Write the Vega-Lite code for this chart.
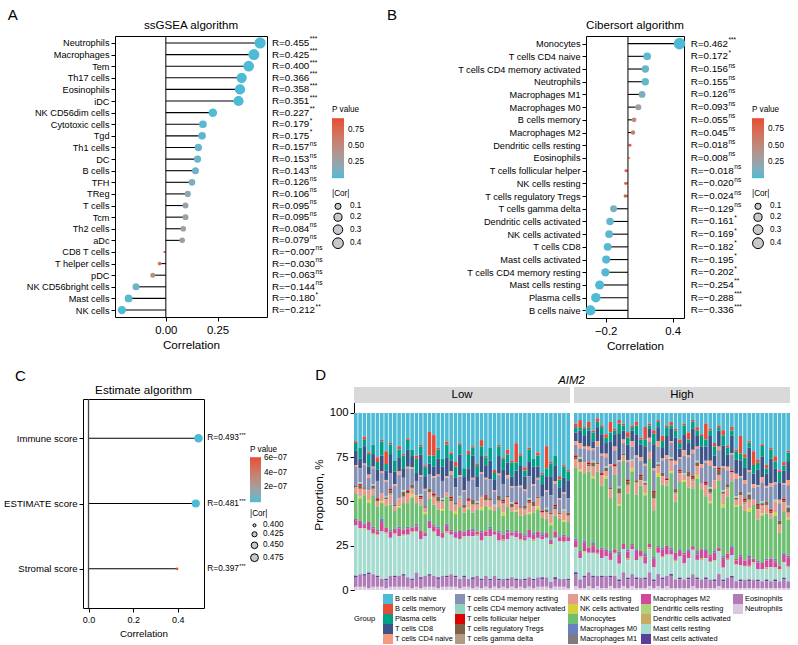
{
"$schema":"https://vega.github.io/schema/vega-lite/v6.json",
"padding":{"left":2,"top":8,"right":0,"bottom":0},
"config":{
 "font":"Liberation Sans",
 "view":{"stroke":"black","strokeWidth":1},
 "axis":{"grid":false,"domain":false,"tickColor":"black","tickSize":4,"labelColor":"black","titleColor":"black","titleFontWeight":"normal","labelPadding":2,"titlePadding":3},
 "title":{"fontWeight":"normal","color":"black"},
 "legend":{"titleFontWeight":"normal","titleColor":"black","labelColor":"black","labelOverlap":false}
},
"datasets":{
 "ssgsea":[
  {"cell":"Neutrophils","cor":0.455,"abscor":0.455,"p":5e-9,"lab":"R=0.455","sig":"***"},
  {"cell":"Macrophages","cor":0.425,"abscor":0.425,"p":6e-8,"lab":"R=0.425","sig":"***"},
  {"cell":"Tem","cor":0.400,"abscor":0.400,"p":4e-7,"lab":"R=0.400","sig":"***"},
  {"cell":"Th17 cells","cor":0.366,"abscor":0.366,"p":4e-6,"lab":"R=0.366","sig":"***"},
  {"cell":"Eosinophils","cor":0.358,"abscor":0.358,"p":7e-6,"lab":"R=0.358","sig":"***"},
  {"cell":"iDC","cor":0.351,"abscor":0.351,"p":1e-5,"lab":"R=0.351","sig":"***"},
  {"cell":"NK CD56dim cells","cor":0.227,"abscor":0.227,"p":0.0052,"lab":"R=0.227","sig":"**"},
  {"cell":"Cytotoxic cells","cor":0.179,"abscor":0.179,"p":0.0285,"lab":"R=0.179","sig":"*"},
  {"cell":"Tgd","cor":0.175,"abscor":0.175,"p":0.032,"lab":"R=0.175","sig":"*"},
  {"cell":"Th1 cells","cor":0.157,"abscor":0.157,"p":0.055,"lab":"R=0.157","sig":"ns"},
  {"cell":"DC","cor":0.153,"abscor":0.153,"p":0.0615,"lab":"R=0.153","sig":"ns"},
  {"cell":"B cells","cor":0.143,"abscor":0.143,"p":0.081,"lab":"R=0.143","sig":"ns"},
  {"cell":"TFH","cor":0.126,"abscor":0.126,"p":0.124,"lab":"R=0.126","sig":"ns"},
  {"cell":"TReg","cor":0.106,"abscor":0.106,"p":0.197,"lab":"R=0.106","sig":"ns"},
  {"cell":"T cells","cor":0.095,"abscor":0.095,"p":0.247,"lab":"R=0.095","sig":"ns"},
  {"cell":"Tcm","cor":0.095,"abscor":0.095,"p":0.247,"lab":"R=0.095","sig":"ns"},
  {"cell":"Th2 cells","cor":0.084,"abscor":0.084,"p":0.307,"lab":"R=0.084","sig":"ns"},
  {"cell":"aDc","cor":0.079,"abscor":0.079,"p":0.337,"lab":"R=0.079","sig":"ns"},
  {"cell":"CD8 T cells","cor":-0.007,"abscor":0.007,"p":0.932,"lab":"R=−0.007","sig":"ns"},
  {"cell":"T helper cells","cor":-0.030,"abscor":0.030,"p":0.716,"lab":"R=−0.030","sig":"ns"},
  {"cell":"pDC","cor":-0.063,"abscor":0.063,"p":0.444,"lab":"R=−0.063","sig":"ns"},
  {"cell":"NK CD56bright cells","cor":-0.144,"abscor":0.144,"p":0.079,"lab":"R=−0.144","sig":"ns"},
  {"cell":"Mast cells","cor":-0.180,"abscor":0.180,"p":0.0277,"lab":"R=−0.180","sig":"*"},
  {"cell":"NK cells","cor":-0.212,"abscor":0.212,"p":0.0093,"lab":"R=−0.212","sig":"**"}
 ],
 "cibersort":[
  {"cell":"Monocytes","cor":0.462,"abscor":0.462,"p":2.6e-9,"lab":"R=0.462","sig":"***"},
  {"cell":"T cells CD4 naive","cor":0.172,"abscor":0.172,"p":0.0355,"lab":"R=0.172","sig":"*"},
  {"cell":"T cells CD4 memory activated","cor":0.156,"abscor":0.156,"p":0.0567,"lab":"R=0.156","sig":"ns"},
  {"cell":"Neutrophils","cor":0.155,"abscor":0.155,"p":0.058,"lab":"R=0.155","sig":"ns"},
  {"cell":"Macrophages M1","cor":0.126,"abscor":0.126,"p":0.125,"lab":"R=0.126","sig":"ns"},
  {"cell":"Macrophages M0","cor":0.093,"abscor":0.093,"p":0.258,"lab":"R=0.093","sig":"ns"},
  {"cell":"B cells memory","cor":0.055,"abscor":0.055,"p":0.504,"lab":"R=0.055","sig":"ns"},
  {"cell":"Macrophages M2","cor":0.045,"abscor":0.045,"p":0.585,"lab":"R=0.045","sig":"ns"},
  {"cell":"Dendritic cells resting","cor":0.018,"abscor":0.018,"p":0.827,"lab":"R=0.018","sig":"ns"},
  {"cell":"Eosinophils","cor":0.008,"abscor":0.008,"p":0.923,"lab":"R=0.008","sig":"ns"},
  {"cell":"T cells follicular helper","cor":-0.018,"abscor":0.018,"p":0.827,"lab":"R=−0.018","sig":"ns"},
  {"cell":"NK cells resting","cor":-0.020,"abscor":0.020,"p":0.808,"lab":"R=−0.020","sig":"ns"},
  {"cell":"T cells regulatory Tregs","cor":-0.024,"abscor":0.024,"p":0.771,"lab":"R=−0.024","sig":"ns"},
  {"cell":"T cells gamma delta","cor":-0.129,"abscor":0.129,"p":0.116,"lab":"R=−0.129","sig":"ns"},
  {"cell":"Dendritic cells activated","cor":-0.161,"abscor":0.161,"p":0.049,"lab":"R=−0.161","sig":"*"},
  {"cell":"NK cells activated","cor":-0.169,"abscor":0.169,"p":0.039,"lab":"R=−0.169","sig":"*"},
  {"cell":"T cells CD8","cor":-0.182,"abscor":0.182,"p":0.0258,"lab":"R=−0.182","sig":"*"},
  {"cell":"Mast cells activated","cor":-0.195,"abscor":0.195,"p":0.0168,"lab":"R=−0.195","sig":"*"},
  {"cell":"T cells CD4 memory resting","cor":-0.202,"abscor":0.202,"p":0.0132,"lab":"R=−0.202","sig":"*"},
  {"cell":"Mast cells resting","cor":-0.254,"abscor":0.254,"p":0.0017,"lab":"R=−0.254","sig":"**"},
  {"cell":"Plasma cells","cor":-0.288,"abscor":0.288,"p":0.00035,"lab":"R=−0.288","sig":"***"},
  {"cell":"B cells naive","cor":-0.336,"abscor":0.336,"p":2.6e-5,"lab":"R=−0.336","sig":"***"}
 ],
 "estimate":[
  {"cell":"Immune score","cor":0.493,"abscor":0.493,"p":1.3e-10,"lab":"R=0.493","sig":"***"},
  {"cell":"ESTIMATE score","cor":0.481,"abscor":0.481,"p":4e-10,"lab":"R=0.481","sig":"***"},
  {"cell":"Stromal score","cor":0.397,"abscor":0.397,"p":6.1e-7,"lab":"R=0.397","sig":"***"}
 ],
 "types":[
  {"ct":"a","name":"B cells naive","ord":1},{"ct":"b","name":"B cells memory","ord":2},{"ct":"c","name":"Plasma cells","ord":3},{"ct":"d","name":"T cells CD8","ord":4},{"ct":"e","name":"T cells CD4 naive","ord":5},{"ct":"f","name":"T cells CD4 memory resting","ord":6},{"ct":"g","name":"T cells CD4 memory activated","ord":7},{"ct":"h","name":"T cells follicular helper","ord":8},{"ct":"i","name":"T cells regulatory Tregs","ord":9},{"ct":"j","name":"T cells gamma delta","ord":10},{"ct":"k","name":"NK cells resting","ord":11},{"ct":"l","name":"NK cells activated","ord":12},{"ct":"m","name":"Monocytes","ord":13},{"ct":"n","name":"Macrophages M0","ord":14},{"ct":"o","name":"Macrophages M1","ord":15},{"ct":"p","name":"Macrophages M2","ord":16},{"ct":"q","name":"Dendritic cells resting","ord":17},{"ct":"r","name":"Dendritic cells activated","ord":18},{"ct":"s","name":"Mast cells resting","ord":19},{"ct":"t","name":"Mast cells activated","ord":20},{"ct":"u","name":"Eosinophils","ord":21},{"ct":"v","name":"Neutrophils","ord":22}
 ],
 "props":[
  {"group":"Low","sample":1,"a":18,"b":1,"c":5,"d":9,"e":1,"f":12,"g":0,"h":0,"i":1,"j":0,"k":4,"l":0,"m":16,"n":1,"o":0,"p":3,"q":0,"r":0,"s":32,"t":1,"u":6,"v":2},
  {"group":"Low","sample":2,"a":22,"b":0,"c":7,"d":6,"e":0,"f":9,"g":1,"h":1,"i":2,"j":0,"k":5,"l":1,"m":14,"n":0,"o":1,"p":4,"q":0,"r":0,"s":29,"t":0,"u":8,"v":2},
  {"group":"Low","sample":3,"a":15,"b":2,"c":4,"d":11,"e":1,"f":14,"g":0,"h":0,"i":1,"j":1,"k":3,"l":0,"m":18,"n":1,"o":0,"p":2,"q":1,"r":0,"s":28,"t":1,"u":7,"v":2},
  {"group":"Low","sample":4,"a":25,"b":1,"c":8,"d":5,"e":2,"f":8,"g":0,"h":0,"i":0,"j":0,"k":6,"l":2,"m":12,"n":0,"o":0,"p":5,"q":0,"r":0,"s":27,"t":1,"u":9,"v":1},
  {"group":"Low","sample":5,"a":20,"b":0,"c":6,"d":8,"e":1,"f":10,"g":1,"h":0,"i":2,"j":0,"k":4,"l":0,"m":20,"n":1,"o":0,"p":3,"q":0,"r":1,"s":25,"t":0,"u":8,"v":2},
  {"group":"Low","sample":6,"a":28,"b":3,"c":5,"d":7,"e":0,"f":11,"g":0,"h":1,"i":1,"j":0,"k":3,"l":0,"m":15,"n":0,"o":1,"p":2,"q":0,"r":0,"s":26,"t":1,"u":6,"v":2},
  {"group":"Low","sample":7,"a":17,"b":1,"c":9,"d":10,"e":1,"f":13,"g":0,"h":0,"i":0,"j":0,"k":5,"l":1,"m":10,"n":2,"o":0,"p":6,"q":0,"r":0,"s":30,"t":0,"u":5,"v":2},
  {"group":"Low","sample":8,"a":24,"b":8,"c":4,"d":6,"e":1,"f":9,"g":1,"h":0,"i":1,"j":0,"k":4,"l":0,"m":14,"n":0,"o":0,"p":3,"q":1,"r":0,"s":28,"t":1,"u":5,"v":1},
  {"group":"Low","sample":9,"a":19,"b":1,"c":6,"d":12,"e":0,"f":10,"g":0,"h":1,"i":2,"j":1,"k":6,"l":0,"m":16,"n":1,"o":0,"p":4,"q":0,"r":0,"s":24,"t":0,"u":7,"v":2},
  {"group":"Low","sample":10,"a":30,"b":0,"c":7,"d":8,"e":1,"f":12,"g":0,"h":0,"i":1,"j":0,"k":3,"l":0,"m":11,"n":0,"o":1,"p":2,"q":0,"r":1,"s":26,"t":1,"u":6,"v":2},
  {"group":"Low","sample":11,"a":21,"b":2,"c":5,"d":9,"e":2,"f":15,"g":0,"h":0,"i":0,"j":0,"k":5,"l":1,"m":12,"n":1,"o":0,"p":5,"q":0,"r":0,"s":25,"t":0,"u":7,"v":2},
  {"group":"Low","sample":12,"a":26,"b":1,"c":8,"d":6,"e":0,"f":8,"g":1,"h":0,"i":3,"j":0,"k":4,"l":0,"m":17,"n":0,"o":0,"p":3,"q":1,"r":0,"s":24,"t":1,"u":7,"v":2},
  {"group":"Low","sample":13,"a":16,"b":1,"c":6,"d":11,"e":1,"f":14,"g":0,"h":1,"i":1,"j":0,"k":6,"l":0,"m":15,"n":1,"o":0,"p":4,"q":0,"r":0,"s":27,"t":0,"u":6,"v":2},
  {"group":"Low","sample":14,"a":23,"b":0,"c":4,"d":7,"e":1,"f":10,"g":0,"h":0,"i":2,"j":1,"k":3,"l":2,"m":19,"n":0,"o":0,"p":2,"q":0,"r":1,"s":29,"t":1,"u":5,"v":1},
  {"group":"Low","sample":15,"a":27,"b":2,"c":9,"d":5,"e":0,"f":9,"g":0,"h":0,"i":0,"j":0,"k":5,"l":0,"m":13,"n":1,"o":1,"p":3,"q":0,"r":0,"s":26,"t":0,"u":9,"v":2},
  {"group":"Low","sample":16,"a":20,"b":1,"c":5,"d":13,"e":1,"f":11,"g":1,"h":1,"i":1,"j":0,"k":4,"l":0,"m":16,"n":0,"o":0,"p":5,"q":0,"r":0,"s":24,"t":1,"u":6,"v":1},
  {"group":"Low","sample":17,"a":33,"b":1,"c":6,"d":8,"e":1,"f":10,"g":0,"h":0,"i":1,"j":0,"k":3,"l":1,"m":12,"n":0,"o":0,"p":2,"q":0,"r":0,"s":25,"t":0,"u":7,"v":2},
  {"group":"Low","sample":18,"a":12,"b":15,"c":5,"d":7,"e":0,"f":9,"g":0,"h":0,"i":2,"j":0,"k":4,"l":0,"m":14,"n":1,"o":0,"p":4,"q":0,"r":0,"s":29,"t":1,"u":7,"v":2},
  {"group":"Low","sample":19,"a":14,"b":13,"c":7,"d":6,"e":1,"f":10,"g":0,"h":1,"i":1,"j":0,"k":5,"l":0,"m":13,"n":0,"o":1,"p":3,"q":1,"r":0,"s":27,"t":0,"u":7,"v":2},
  {"group":"Low","sample":20,"a":22,"b":1,"c":6,"d":10,"e":1,"f":13,"g":0,"h":0,"i":3,"j":1,"k":4,"l":0,"m":11,"n":1,"o":0,"p":5,"q":0,"r":0,"s":26,"t":1,"u":6,"v":1},
  {"group":"Low","sample":21,"a":29,"b":0,"c":5,"d":9,"e":0,"f":11,"g":1,"h":0,"i":1,"j":0,"k":5,"l":1,"m":14,"n":0,"o":0,"p":3,"q":0,"r":0,"s":24,"t":0,"u":7,"v":2},
  {"group":"Low","sample":22,"a":18,"b":2,"c":8,"d":12,"e":1,"f":9,"g":0,"h":0,"i":0,"j":0,"k":3,"l":0,"m":17,"n":1,"o":0,"p":4,"q":0,"r":1,"s":27,"t":1,"u":6,"v":2},
  {"group":"Low","sample":23,"a":25,"b":1,"c":4,"d":7,"e":2,"f":14,"g":0,"h":1,"i":2,"j":0,"k":6,"l":0,"m":12,"n":0,"o":1,"p":2,"q":0,"r":0,"s":25,"t":0,"u":8,"v":2},
  {"group":"Low","sample":24,"a":31,"b":3,"c":7,"d":6,"e":0,"f":10,"g":0,"h":0,"i":1,"j":0,"k":4,"l":2,"m":11,"n":1,"o":0,"p":3,"q":0,"r":0,"s":24,"t":1,"u":6,"v":2},
  {"group":"Low","sample":25,"a":19,"b":1,"c":6,"d":13,"e":1,"f":12,"g":1,"h":0,"i":0,"j":1,"k":5,"l":0,"m":15,"n":0,"o":0,"p":5,"q":0,"r":0,"s":25,"t":0,"u":6,"v":1},
  {"group":"Low","sample":26,"a":35,"b":0,"c":5,"d":9,"e":1,"f":8,"g":0,"h":0,"i":2,"j":0,"k":3,"l":0,"m":12,"n":1,"o":0,"p":2,"q":1,"r":0,"s":24,"t":1,"u":6,"v":2},
  {"group":"Low","sample":27,"a":24,"b":2,"c":9,"d":8,"e":0,"f":11,"g":0,"h":1,"i":1,"j":0,"k":4,"l":1,"m":13,"n":0,"o":0,"p":4,"q":0,"r":0,"s":27,"t":0,"u":5,"v":2},
  {"group":"Low","sample":28,"a":21,"b":1,"c":5,"d":14,"e":1,"f":13,"g":0,"h":0,"i":3,"j":0,"k":5,"l":0,"m":10,"n":1,"o":1,"p":3,"q":0,"r":0,"s":26,"t":1,"u":6,"v":1},
  {"group":"Low","sample":29,"a":32,"b":1,"c":7,"d":7,"e":0,"f":9,"g":1,"h":0,"i":1,"j":0,"k":3,"l":0,"m":14,"n":0,"o":0,"p":2,"q":0,"r":1,"s":25,"t":0,"u":7,"v":2},
  {"group":"Low","sample":30,"a":17,"b":4,"c":6,"d":10,"e":1,"f":14,"g":0,"h":0,"i":0,"j":1,"k":6,"l":2,"m":13,"n":1,"o":0,"p":5,"q":0,"r":0,"s":24,"t":1,"u":5,"v":1},
  {"group":"Low","sample":31,"a":27,"b":1,"c":5,"d":8,"e":1,"f":10,"g":0,"h":1,"i":2,"j":0,"k":4,"l":0,"m":16,"n":0,"o":0,"p":3,"q":0,"r":0,"s":25,"t":0,"u":7,"v":2},
  {"group":"Low","sample":32,"a":22,"b":0,"c":8,"d":12,"e":0,"f":12,"g":0,"h":0,"i":1,"j":0,"k":5,"l":1,"m":11,"n":1,"o":1,"p":4,"q":1,"r":0,"s":26,"t":1,"u":5,"v":1},
  {"group":"Low","sample":33,"a":36,"b":2,"c":4,"d":7,"e":1,"f":8,"g":1,"h":0,"i":0,"j":0,"k":3,"l":0,"m":13,"n":0,"o":0,"p":2,"q":0,"r":0,"s":26,"t":0,"u":7,"v":2},
  {"group":"Low","sample":34,"a":20,"b":1,"c":6,"d":11,"e":1,"f":13,"g":0,"h":0,"i":3,"j":0,"k":4,"l":0,"m":15,"n":1,"o":0,"p":5,"q":0,"r":0,"s":24,"t":1,"u":5,"v":1},
  {"group":"Low","sample":35,"a":28,"b":1,"c":7,"d":9,"e":0,"f":10,"g":0,"h":1,"i":1,"j":1,"k":5,"l":2,"m":12,"n":0,"o":0,"p":3,"q":0,"r":1,"s":24,"t":0,"u":5,"v":2},
  {"group":"Low","sample":36,"a":23,"b":3,"c":5,"d":8,"e":2,"f":11,"g":0,"h":0,"i":1,"j":0,"k":6,"l":0,"m":14,"n":1,"o":1,"p":4,"q":0,"r":0,"s":25,"t":1,"u":5,"v":1},
  {"group":"Low","sample":37,"a":30,"b":1,"c":9,"d":6,"e":1,"f":9,"g":1,"h":0,"i":2,"j":0,"k":3,"l":0,"m":13,"n":0,"o":0,"p":2,"q":0,"r":0,"s":26,"t":0,"u":6,"v":2},
  {"group":"Low","sample":38,"a":19,"b":12,"c":5,"d":10,"e":0,"f":10,"g":0,"h":1,"i":0,"j":0,"k":4,"l":1,"m":12,"n":1,"o":0,"p":3,"q":0,"r":0,"s":26,"t":1,"u":5,"v":1},
  {"group":"Low","sample":39,"a":26,"b":1,"c":6,"d":13,"e":1,"f":12,"g":0,"h":0,"i":1,"j":0,"k":5,"l":0,"m":11,"n":0,"o":0,"p":4,"q":1,"r":0,"s":24,"t":0,"u":5,"v":2},
  {"group":"Low","sample":40,"a":34,"b":2,"c":4,"d":8,"e":1,"f":9,"g":0,"h":0,"i":2,"j":1,"k":3,"l":0,"m":12,"n":1,"o":1,"p":2,"q":0,"r":0,"s":24,"t":1,"u":5,"v":1},
  {"group":"Low","sample":41,"a":22,"b":1,"c":8,"d":9,"e":0,"f":14,"g":1,"h":1,"i":1,"j":0,"k":6,"l":1,"m":10,"n":0,"o":0,"p":5,"q":0,"r":0,"s":25,"t":0,"u":6,"v":2},
  {"group":"Low","sample":42,"a":29,"b":0,"c":5,"d":11,"e":1,"f":10,"g":0,"h":0,"i":3,"j":0,"k":4,"l":0,"m":13,"n":1,"o":0,"p":3,"q":0,"r":1,"s":24,"t":1,"u":5,"v":1},
  {"group":"Low","sample":43,"a":25,"b":2,"c":7,"d":7,"e":1,"f":11,"g":0,"h":0,"i":1,"j":0,"k":5,"l":2,"m":14,"n":0,"o":0,"p":4,"q":0,"r":0,"s":25,"t":0,"u":6,"v":2},
  {"group":"Low","sample":44,"a":38,"b":1,"c":6,"d":8,"e":0,"f":9,"g":0,"h":1,"i":0,"j":0,"k":3,"l":0,"m":10,"n":1,"o":1,"p":2,"q":0,"r":0,"s":24,"t":1,"u":5,"v":2},
  {"group":"Low","sample":45,"a":21,"b":14,"c":5,"d":9,"e":1,"f":10,"g":1,"h":0,"i":2,"j":0,"k":4,"l":0,"m":9,"n":0,"o":0,"p":3,"q":0,"r":0,"s":25,"t":0,"u":6,"v":2},
  {"group":"Low","sample":46,"a":31,"b":1,"c":8,"d":12,"e":0,"f":11,"g":0,"h":0,"i":1,"j":1,"k":5,"l":1,"m":9,"n":1,"o":0,"p":2,"q":1,"r":0,"s":23,"t":0,"u":4,"v":1},
  {"group":"Low","sample":47,"a":27,"b":0,"c":6,"d":10,"e":2,"f":13,"g":0,"h":1,"i":2,"j":0,"k":4,"l":0,"m":10,"n":0,"o":0,"p":4,"q":0,"r":0,"s":25,"t":1,"u":5,"v":2},
  {"group":"Low","sample":48,"a":40,"b":2,"c":5,"d":7,"e":1,"f":8,"g":0,"h":0,"i":1,"j":0,"k":3,"l":0,"m":11,"n":1,"o":0,"p":2,"q":0,"r":0,"s":24,"t":0,"u":5,"v":2},
  {"group":"Low","sample":49,"a":33,"b":1,"c":7,"d":9,"e":1,"f":10,"g":1,"h":0,"i":0,"j":0,"k":6,"l":1,"m":8,"n":0,"o":1,"p":3,"q":0,"r":1,"s":23,"t":0,"u":5,"v":2},
  {"group":"Low","sample":50,"a":36,"b":1,"c":6,"d":11,"e":0,"f":9,"g":0,"h":0,"i":2,"j":0,"k":4,"l":0,"m":9,"n":1,"o":0,"p":2,"q":0,"r":0,"s":24,"t":1,"u":5,"v":1},
  {"group":"High","sample":51,"a":6,"b":2,"c":3,"d":5,"e":2,"f":6,"g":0,"h":1,"i":1,"j":0,"k":5,"l":0,"m":40,"n":1,"o":0,"p":4,"q":0,"r":0,"s":14,"t":1,"u":7,"v":2},
  {"group":"High","sample":52,"a":4,"b":4,"c":2,"d":7,"e":3,"f":5,"g":1,"h":0,"i":2,"j":0,"k":4,"l":1,"m":45,"n":0,"o":1,"p":3,"q":0,"r":0,"s":12,"t":0,"u":5,"v":1},
  {"group":"High","sample":53,"a":8,"b":1,"c":4,"d":6,"e":1,"f":8,"g":0,"h":0,"i":0,"j":0,"k":6,"l":0,"m":38,"n":1,"o":0,"p":5,"q":1,"r":0,"s":13,"t":1,"u":6,"v":1},
  {"group":"High","sample":54,"a":5,"b":3,"c":2,"d":9,"e":2,"f":7,"g":0,"h":1,"i":1,"j":0,"k":3,"l":0,"m":43,"n":0,"o":0,"p":3,"q":0,"r":0,"s":11,"t":0,"u":8,"v":2},
  {"group":"High","sample":55,"a":10,"b":1,"c":5,"d":4,"e":1,"f":6,"g":1,"h":0,"i":2,"j":1,"k":5,"l":1,"m":36,"n":1,"o":1,"p":4,"q":0,"r":0,"s":13,"t":1,"u":6,"v":1},
  {"group":"High","sample":56,"a":3,"b":2,"c":3,"d":8,"e":3,"f":9,"g":0,"h":0,"i":1,"j":0,"k":4,"l":0,"m":44,"n":0,"o":0,"p":2,"q":0,"r":1,"s":12,"t":0,"u":6,"v":2},
  {"group":"High","sample":57,"a":7,"b":1,"c":4,"d":11,"e":1,"f":10,"g":0,"h":1,"i":0,"j":0,"k":6,"l":0,"m":35,"n":1,"o":0,"p":5,"q":0,"r":0,"s":10,"t":1,"u":6,"v":1},
  {"group":"High","sample":58,"a":12,"b":2,"c":3,"d":6,"e":2,"f":5,"g":1,"h":0,"i":2,"j":0,"k":3,"l":1,"m":40,"n":0,"o":1,"p":3,"q":0,"r":0,"s":11,"t":0,"u":7,"v":1},
  {"group":"High","sample":59,"a":5,"b":6,"c":5,"d":13,"e":1,"f":12,"g":0,"h":0,"i":1,"j":0,"k":5,"l":0,"m":30,"n":1,"o":0,"p":4,"q":0,"r":0,"s":9,"t":1,"u":5,"v":2},
  {"group":"High","sample":60,"a":9,"b":1,"c":2,"d":7,"e":2,"f":8,"g":0,"h":1,"i":0,"j":1,"k":4,"l":0,"m":42,"n":0,"o":0,"p":2,"q":1,"r":0,"s":12,"t":0,"u":7,"v":1},
  {"group":"High","sample":61,"a":4,"b":2,"c":6,"d":15,"e":1,"f":14,"g":1,"h":0,"i":3,"j":0,"k":6,"l":1,"m":26,"n":1,"o":1,"p":5,"q":0,"r":0,"s":9,"t":1,"u":4,"v":1},
  {"group":"High","sample":62,"a":6,"b":1,"c":3,"d":5,"e":2,"f":6,"g":0,"h":0,"i":1,"j":0,"k":3,"l":0,"m":47,"n":0,"o":0,"p":3,"q":0,"r":0,"s":13,"t":0,"u":8,"v":2},
  {"group":"High","sample":63,"a":11,"b":3,"c":4,"d":9,"e":1,"f":10,"g":0,"h":1,"i":2,"j":0,"k":5,"l":0,"m":32,"n":1,"o":0,"p":4,"q":0,"r":1,"s":10,"t":1,"u":5,"v":1},
  {"group":"High","sample":64,"a":7,"b":1,"c":2,"d":6,"e":3,"f":7,"g":1,"h":0,"i":0,"j":0,"k":4,"l":2,"m":41,"n":0,"o":1,"p":2,"q":0,"r":0,"s":14,"t":0,"u":7,"v":2},
  {"group":"High","sample":65,"a":5,"b":2,"c":5,"d":12,"e":1,"f":13,"g":0,"h":0,"i":1,"j":1,"k":6,"l":0,"m":31,"n":1,"o":0,"p":5,"q":0,"r":0,"s":10,"t":1,"u":5,"v":1},
  {"group":"High","sample":66,"a":14,"b":1,"c":3,"d":7,"e":2,"f":8,"g":0,"h":1,"i":2,"j":0,"k":3,"l":0,"m":37,"n":0,"o":0,"p":3,"q":1,"r":0,"s":11,"t":0,"u":6,"v":1},
  {"group":"High","sample":67,"a":8,"b":7,"c":4,"d":10,"e":1,"f":9,"g":1,"h":0,"i":1,"j":0,"k":5,"l":1,"m":33,"n":1,"o":1,"p":4,"q":0,"r":0,"s":8,"t":1,"u":5,"v":1},
  {"group":"High","sample":68,"a":6,"b":1,"c":2,"d":5,"e":2,"f":6,"g":0,"h":0,"i":0,"j":0,"k":4,"l":0,"m":48,"n":0,"o":0,"p":2,"q":0,"r":1,"s":13,"t":0,"u":8,"v":2},
  {"group":"High","sample":69,"a":10,"b":2,"c":6,"d":14,"e":1,"f":12,"g":0,"h":1,"i":3,"j":1,"k":6,"l":0,"m":27,"n":1,"o":0,"p":5,"q":0,"r":0,"s":7,"t":1,"u":4,"v":1},
  {"group":"High","sample":70,"a":4,"b":1,"c":3,"d":8,"e":3,"f":9,"g":1,"h":0,"i":1,"j":0,"k":4,"l":2,"m":39,"n":0,"o":1,"p":3,"q":0,"r":0,"s":12,"t":0,"u":7,"v":2},
  {"group":"High","sample":71,"a":13,"b":3,"c":4,"d":6,"e":1,"f":7,"g":0,"h":0,"i":2,"j":0,"k":5,"l":0,"m":36,"n":1,"o":0,"p":4,"q":1,"r":0,"s":11,"t":1,"u":5,"v":1},
  {"group":"High","sample":72,"a":7,"b":1,"c":5,"d":11,"e":2,"f":11,"g":0,"h":1,"i":0,"j":0,"k":3,"l":0,"m":34,"n":0,"o":0,"p":5,"q":0,"r":0,"s":12,"t":0,"u":6,"v":2},
  {"group":"High","sample":73,"a":5,"b":2,"c":2,"d":7,"e":1,"f":8,"g":1,"h":0,"i":1,"j":0,"k":6,"l":1,"m":42,"n":1,"o":1,"p":2,"q":0,"r":0,"s":11,"t":1,"u":7,"v":1},
  {"group":"High","sample":74,"a":9,"b":1,"c":4,"d":13,"e":2,"f":14,"g":0,"h":0,"i":2,"j":1,"k":4,"l":0,"m":29,"n":0,"o":0,"p":4,"q":0,"r":1,"s":10,"t":0,"u":5,"v":1},
  {"group":"High","sample":75,"a":15,"b":2,"c":3,"d":5,"e":1,"f":6,"g":0,"h":1,"i":1,"j":0,"k":5,"l":0,"m":38,"n":1,"o":0,"p":3,"q":0,"r":0,"s":12,"t":1,"u":5,"v":1},
  {"group":"High","sample":76,"a":6,"b":1,"c":5,"d":9,"e":3,"f":10,"g":1,"h":0,"i":0,"j":0,"k":3,"l":1,"m":40,"n":0,"o":1,"p":5,"q":0,"r":0,"s":9,"t":0,"u":5,"v":1},
  {"group":"High","sample":77,"a":11,"b":4,"c":2,"d":7,"e":1,"f":8,"g":0,"h":0,"i":3,"j":0,"k":6,"l":0,"m":35,"n":1,"o":0,"p":4,"q":0,"r":0,"s":11,"t":1,"u":5,"v":1},
  {"group":"High","sample":78,"a":4,"b":1,"c":4,"d":12,"e":2,"f":13,"g":0,"h":1,"i":1,"j":1,"k":4,"l":0,"m":33,"n":0,"o":0,"p":2,"q":1,"r":0,"s":13,"t":0,"u":7,"v":2},
  {"group":"High","sample":79,"a":8,"b":2,"c":3,"d":6,"e":1,"f":7,"g":1,"h":0,"i":2,"j":0,"k":5,"l":2,"m":41,"n":1,"o":1,"p":3,"q":0,"r":0,"s":10,"t":1,"u":5,"v":1},
  {"group":"High","sample":80,"a":12,"b":1,"c":6,"d":10,"e":2,"f":9,"g":0,"h":0,"i":0,"j":0,"k":3,"l":0,"m":34,"n":0,"o":0,"p":5,"q":0,"r":1,"s":11,"t":0,"u":5,"v":1},
  {"group":"High","sample":81,"a":6,"b":9,"c":4,"d":8,"e":1,"f":11,"g":0,"h":1,"i":1,"j":0,"k":6,"l":0,"m":30,"n":1,"o":0,"p":4,"q":0,"r":0,"s":11,"t":1,"u":5,"v":1},
  {"group":"High","sample":82,"a":9,"b":1,"c":3,"d":14,"e":3,"f":12,"g":1,"h":0,"i":2,"j":1,"k":4,"l":1,"m":29,"n":0,"o":1,"p":3,"q":0,"r":0,"s":10,"t":0,"u":5,"v":1},
  {"group":"High","sample":83,"a":17,"b":2,"c":5,"d":6,"e":1,"f":7,"g":0,"h":0,"i":0,"j":0,"k":5,"l":0,"m":35,"n":1,"o":0,"p":4,"q":1,"r":0,"s":10,"t":1,"u":4,"v":1},
  {"group":"High","sample":84,"a":7,"b":1,"c":2,"d":9,"e":2,"f":10,"g":0,"h":1,"i":3,"j":0,"k":3,"l":0,"m":38,"n":0,"o":0,"p":2,"q":0,"r":0,"s":13,"t":0,"u":7,"v":2},
  {"group":"High","sample":85,"a":10,"b":3,"c":6,"d":12,"e":1,"f":13,"g":1,"h":0,"i":1,"j":0,"k":6,"l":2,"m":28,"n":1,"o":1,"p":5,"q":0,"r":0,"s":7,"t":1,"u":4,"v":1},
  {"group":"High","sample":86,"a":19,"b":1,"c":4,"d":7,"e":2,"f":8,"g":0,"h":0,"i":2,"j":1,"k":4,"l":0,"m":33,"n":0,"o":0,"p":3,"q":0,"r":1,"s":10,"t":0,"u":6,"v":1},
  {"group":"High","sample":87,"a":8,"b":2,"c":3,"d":10,"e":1,"f":9,"g":0,"h":1,"i":0,"j":0,"k":5,"l":0,"m":37,"n":1,"o":0,"p":4,"q":0,"r":0,"s":12,"t":1,"u":6,"v":1},
  {"group":"High","sample":88,"a":21,"b":1,"c":5,"d":8,"e":3,"f":10,"g":1,"h":0,"i":1,"j":0,"k":3,"l":1,"m":30,"n":0,"o":1,"p":2,"q":1,"r":0,"s":9,"t":0,"u":4,"v":1},
  {"group":"High","sample":89,"a":13,"b":10,"c":4,"d":9,"e":1,"f":8,"g":0,"h":0,"i":2,"j":0,"k":6,"l":0,"m":28,"n":1,"o":0,"p":5,"q":0,"r":0,"s":8,"t":1,"u":4,"v":1},
  {"group":"High","sample":90,"a":24,"b":2,"c":6,"d":7,"e":2,"f":9,"g":0,"h":1,"i":1,"j":1,"k":4,"l":0,"m":29,"n":0,"o":0,"p":3,"q":0,"r":0,"s":8,"t":0,"u":5,"v":1},
  {"group":"High","sample":91,"a":16,"b":1,"c":3,"d":13,"e":1,"f":12,"g":1,"h":0,"i":3,"j":0,"k":5,"l":2,"m":25,"n":1,"o":1,"p":4,"q":0,"r":1,"s":7,"t":1,"u":4,"v":1},
  {"group":"High","sample":92,"a":22,"b":8,"c":5,"d":6,"e":2,"f":7,"g":0,"h":0,"i":0,"j":0,"k":3,"l":0,"m":31,"n":0,"o":0,"p":2,"q":1,"r":0,"s":9,"t":0,"u":5,"v":1},
  {"group":"High","sample":93,"a":27,"b":2,"c":4,"d":9,"e":1,"f":10,"g":0,"h":1,"i":2,"j":0,"k":6,"l":0,"m":24,"n":1,"o":0,"p":4,"q":0,"r":0,"s":6,"t":1,"u":4,"v":1},
  {"group":"High","sample":94,"a":18,"b":1,"c":6,"d":12,"e":3,"f":11,"g":1,"h":0,"i":1,"j":1,"k":4,"l":1,"m":27,"n":0,"o":1,"p":3,"q":0,"r":0,"s":7,"t":0,"u":4,"v":1},
  {"group":"High","sample":95,"a":30,"b":2,"c":3,"d":7,"e":1,"f":8,"g":0,"h":0,"i":2,"j":0,"k":5,"l":0,"m":26,"n":1,"o":0,"p":4,"q":0,"r":1,"s":6,"t":1,"u":4,"v":1},
  {"group":"High","sample":96,"a":20,"b":1,"c":5,"d":14,"e":2,"f":13,"g":0,"h":1,"i":1,"j":0,"k":3,"l":0,"m":23,"n":0,"o":0,"p":5,"q":0,"r":0,"s":8,"t":0,"u":4,"v":1},
  {"group":"High","sample":97,"a":25,"b":3,"c":4,"d":8,"e":1,"f":9,"g":1,"h":0,"i":0,"j":0,"k":6,"l":2,"m":25,"n":1,"o":1,"p":3,"q":0,"r":0,"s":7,"t":1,"u":4,"v":1},
  {"group":"High","sample":98,"a":33,"b":1,"c":6,"d":10,"e":2,"f":10,"g":0,"h":0,"i":2,"j":1,"k":4,"l":0,"m":19,"n":0,"o":0,"p":2,"q":1,"r":0,"s":6,"t":0,"u":4,"v":1},
  {"group":"High","sample":99,"a":28,"b":2,"c":3,"d":7,"e":1,"f":8,"g":0,"h":1,"i":1,"j":0,"k":5,"l":0,"m":24,"n":1,"o":0,"p":4,"q":0,"r":0,"s":9,"t":1,"u":5,"v":1},
  {"group":"High","sample":100,"a":22,"b":1,"c":5,"d":11,"e":3,"f":12,"g":1,"h":0,"i":3,"j":0,"k":3,"l":1,"m":21,"n":0,"o":1,"p":5,"q":0,"r":1,"s":8,"t":0,"u":4,"v":1}
 ]
},
"spacing":14,
"resolve":{"scale":{"color":"independent","size":"independent"}},
"vconcat":[
 {"spacing":0,"resolve":{"scale":{"color":"independent","size":"independent"}},
  "hconcat":[
  {"width":5,"height":1,"view":{"stroke":null,"fill":"white"},"data":{"values":[]},"mark":"point"},
  {"spacing":21,"resolve":{"scale":{"color":"independent","size":"independent"}},
   "hconcat":[
   {"title":{"text":"A","anchor":"start","fontSize":15,"dx":-18,"offset":-4},
    "resolve":{"scale":{"color":"independent","size":"independent"}},
    "vconcat":[{
     "title":{"text":"ssGSEA algorithm","fontSize":11.6,"frame":"group","anchor":"middle","offset":4},
     "width":152,"height":281,
     "data":{"name":"ssgsea"},
     "layer":[
      {"mark":{"type":"rule","color":"black","strokeWidth":1.1},
       "encoding":{
        "y":{"field":"cell","type":"nominal","sort":null,"scale":{"type":"point","padding":0.6},"axis":{"title":null,"labelFontSize":9.2}},
        "x":{"field":"cor","type":"quantitative","scale":{"domain":[-0.2454,0.4884],"nice":false,"zero":false},"axis":{"title":"Correlation","values":[0,0.25],"format":".2f","labelFontSize":11.4,"titleFontSize":11.7,"labelPadding":3,"titlePadding":4}},
        "x2":{"datum":0}}},
      {"data":{"values":[{}]},"mark":{"type":"rule","color":"black","strokeWidth":1},
       "encoding":{"x":{"datum":0,"type":"quantitative"}}},
      {"mark":{"type":"circle","opacity":1},
       "encoding":{
        "y":{"field":"cell","type":"nominal","sort":null},
        "x":{"field":"cor","type":"quantitative"},
        "color":{"field":"p","type":"quantitative","scale":{"range":["#4DBBD5","#E64B35"],"interpolate":"lab","nice":false,"zero":false},
         "legend":{"title":"P value","orient":"none","legendX":217,"legendY":70,"direction":"vertical","gradientLength":60,"gradientThickness":12,"values":[0.25,0.5,0.75],"format":".2f","labelFontSize":8.2,"titleFontSize":8.2,"titlePadding":4,"labelOffset":4,"gradientStrokeWidth":0}},
        "size":{"field":"abscor","type":"quantitative","scale":{"type":"pow","exponent":0.8,"domain":[0.007,0.455],"range":[3.5,127],"zero":false},
         "legend":{"title":"|Cor|","orient":"none","legendX":217,"legendY":154,"values":[0.1,0.2,0.3,0.4],"labelFontSize":8.2,"titleFontSize":8.2,"symbolFillColor":"#C8C8C8","symbolStrokeColor":"black","symbolStrokeWidth":1,"symbolOpacity":1,"rowPadding":-4,"labelOffset":6,"titlePadding":4}}}},
      {"mark":{"type":"text","align":"left","baseline":"middle","dx":5,"fontSize":9.8},
       "encoding":{"y":{"field":"cell","type":"nominal","sort":null},"x":{"datum":0.4884,"type":"quantitative"},"text":{"field":"lab"}}},
      {"mark":{"type":"text","align":"left","baseline":"middle","dx":42.8,"dy":-3.5,"fontSize":6.5},
       "encoding":{"y":{"field":"cell","type":"nominal","sort":null},"x":{"datum":0.4884,"type":"quantitative"},"text":{"condition":{"test":"datum.cor >= 0","field":"sig"},"value":""}}},
      {"mark":{"type":"text","align":"left","baseline":"middle","dx":48.6,"dy":-3.5,"fontSize":6.5},
       "encoding":{"y":{"field":"cell","type":"nominal","sort":null},"x":{"datum":0.4884,"type":"quantitative"},"text":{"condition":{"test":"datum.cor < 0","field":"sig"},"value":""}}}
     ]
    }]
   },
   {"title":{"text":"B","anchor":"start","fontSize":15,"dx":-70,"offset":-4},
    "resolve":{"scale":{"color":"independent","size":"independent"}},
    "vconcat":[{
     "title":{"text":"Cibersort algorithm","fontSize":11.6,"frame":"group","anchor":"middle","offset":4},
     "width":98,"height":282,
     "data":{"name":"cibersort"},
     "layer":[
      {"mark":{"type":"rule","color":"black","strokeWidth":1.1},
       "encoding":{
        "y":{"field":"cell","type":"nominal","sort":null,"scale":{"type":"point","padding":0.6},"axis":{"title":null,"labelFontSize":9.2}},
        "x":{"field":"cor","type":"quantitative","scale":{"domain":[-0.376,0.502],"nice":false,"zero":false},"axis":{"title":"Correlation","values":[-0.2,0,0.2,0.4],"format":".1f","labelFontSize":11.4,"titleFontSize":11.7,"labelPadding":3,"titlePadding":4}},
        "x2":{"datum":0}}},
      {"data":{"values":[{}]},"mark":{"type":"rule","color":"black","strokeWidth":1},
       "encoding":{"x":{"datum":0,"type":"quantitative"}}},
      {"mark":{"type":"circle","opacity":1},
       "encoding":{
        "y":{"field":"cell","type":"nominal","sort":null},
        "x":{"field":"cor","type":"quantitative"},
        "color":{"field":"p","type":"quantitative","scale":{"range":["#4DBBD5","#E64B35"],"interpolate":"lab","nice":false,"zero":false},
         "legend":{"title":"P value","orient":"none","legendX":166,"legendY":70,"direction":"vertical","gradientLength":60,"gradientThickness":12,"values":[0.25,0.5,0.75],"format":".2f","labelFontSize":8.2,"titleFontSize":8.2,"titlePadding":4,"labelOffset":4,"gradientStrokeWidth":0}},
        "size":{"field":"abscor","type":"quantitative","scale":{"type":"pow","exponent":0.8,"domain":[0.008,0.462],"range":[4,133],"zero":false},
         "legend":{"title":"|Cor|","orient":"none","legendX":166,"legendY":154,"values":[0.1,0.2,0.3,0.4],"labelFontSize":8.2,"titleFontSize":8.2,"symbolFillColor":"#C8C8C8","symbolStrokeColor":"black","symbolStrokeWidth":1,"symbolOpacity":1,"rowPadding":-4,"labelOffset":6,"titlePadding":4}}}},
      {"mark":{"type":"text","align":"left","baseline":"middle","dx":6.7,"fontSize":9.8},
       "encoding":{"y":{"field":"cell","type":"nominal","sort":null},"x":{"datum":0.502,"type":"quantitative"},"text":{"field":"lab"}}},
      {"mark":{"type":"text","align":"left","baseline":"middle","dx":44.5,"dy":-3.5,"fontSize":6.5},
       "encoding":{"y":{"field":"cell","type":"nominal","sort":null},"x":{"datum":0.502,"type":"quantitative"},"text":{"condition":{"test":"datum.cor >= 0","field":"sig"},"value":""}}},
      {"mark":{"type":"text","align":"left","baseline":"middle","dx":50.3,"dy":-3.5,"fontSize":6.5},
       "encoding":{"y":{"field":"cell","type":"nominal","sort":null},"x":{"datum":0.502,"type":"quantitative"},"text":{"condition":{"test":"datum.cor < 0","field":"sig"},"value":""}}}
     ]
    }]
   }
  ]}
 ]},
 {"spacing":0,"resolve":{"scale":{"color":"independent","size":"independent"}},
  "hconcat":[
  {"width":1,"height":1,"view":{"stroke":null,"fill":"white"},"data":{"values":[]},"mark":"point"},
  {"spacing":25,"resolve":{"scale":{"color":"independent","size":"independent"}},
   "hconcat":[
   {"title":{"text":"C","anchor":"start","fontSize":15,"dx":12,"offset":0},
    "resolve":{"scale":{"color":"independent","size":"independent"}},
    "vconcat":[{
     "title":{"text":"Estimate algorithm","fontSize":11.7,"frame":"group","anchor":"middle","offset":2},
     "width":121,"height":209,
     "data":{"name":"estimate"},
     "layer":[
      {"mark":{"type":"rule","color":"black","strokeWidth":1.1},
       "encoding":{
        "y":{"field":"cell","type":"nominal","sort":null,"scale":{"type":"point","padding":0.6},"axis":{"title":null,"labelFontSize":9.6}},
        "x":{"field":"cor","type":"quantitative","scale":{"domain":[-0.0247,0.5177],"nice":false,"zero":false},"axis":{"title":"Correlation","values":[0,0.1,0.2,0.3,0.4,0.5],"format":".1f","labelFontSize":9,"titleFontSize":9.8,"labelPadding":3,"titlePadding":4}},
        "x2":{"datum":0}}},
      {"data":{"values":[{}]},"mark":{"type":"rule","color":"#444444","strokeWidth":1.3},
       "encoding":{"x":{"datum":0,"type":"quantitative"}}},
      {"mark":{"type":"circle","opacity":1},
       "encoding":{
        "y":{"field":"cell","type":"nominal","sort":null},
        "x":{"field":"cor","type":"quantitative"},
        "color":{"field":"p","type":"quantitative","scale":{"range":["#4DBBD5","#E64B35"],"interpolate":"lab","nice":false,"zero":false},
         "legend":{"title":"P value","orient":"none","legendX":167,"legendY":47,"direction":"vertical","gradientLength":45,"gradientThickness":11,"values":[2e-7,4e-7,6e-7],"labelExpr":"replace(replace(format(datum.value,'.0e'),'−','-'),'e-','e−0')","labelFontSize":8.2,"titleFontSize":8.2,"titlePadding":3,"labelOffset":3,"gradientStrokeWidth":0}},
        "size":{"field":"abscor","type":"quantitative","scale":{"type":"linear","domain":[0.397,0.493],"range":[7,74],"zero":false},
         "legend":{"title":"|Cor|","orient":"none","legendX":167,"legendY":111,"values":[0.4,0.425,0.45,0.475],"format":".3f","labelFontSize":8.2,"titleFontSize":8.2,"symbolFillColor":"#C8C8C8","symbolStrokeColor":"black","symbolStrokeWidth":1,"symbolOpacity":1,"rowPadding":0,"labelOffset":4,"titlePadding":3}}}},
      {"mark":{"type":"text","align":"left","baseline":"middle","dx":3.3,"fontSize":8.3},
       "encoding":{"y":{"field":"cell","type":"nominal","sort":null},"x":{"datum":0.5177,"type":"quantitative"},"text":{"field":"lab"}}},
      {"mark":{"type":"text","align":"left","baseline":"middle","dx":35.3,"dy":-3,"fontSize":5.5},
       "encoding":{"y":{"field":"cell","type":"nominal","sort":null},"x":{"datum":0.5177,"type":"quantitative"},"text":{"field":"sig"}}}
     ]
    }]
   },
   {"title":{"text":"D","anchor":"start","fontSize":15,"dx":2,"offset":-8},
    "resolve":{"scale":{"color":"independent","size":"independent"}},
    "vconcat":[{
     "data":{"name":"props"},
     "transform":[
      {"fold":["a","b","c","d","e","f","g","h","i","j","k","l","m","n","o","p","q","r","s","t","u","v"],"as":["ct","pct"]},
      {"lookup":"ct","from":{"data":{"name":"types"},"key":"ct","fields":["name","ord"]}}
     ],
     "title":{"text":"AIM2","fontStyle":"italic","fontSize":11.4,"anchor":"start","dx":245,"offset":1},
     "facet":{"column":{"field":"group","type":"nominal","sort":["Low","High"],"header":null}},
     "spacing":4,
     "resolve":{"scale":{"x":"independent"}},
     "spec":{
      "width":216,"height":191,
      "view":{"stroke":null},
      "layer":[
       {"mark":{"type":"bar"},
        "encoding":{
         "x":{"field":"sample","type":"ordinal","axis":null,"scale":{"paddingInner":0.18,"paddingOuter":0}},
         "y":{"field":"pct","type":"quantitative","stack":"normalize","scale":{"domain":[0,1.079],"nice":false},
          "axis":{"domain":true,"domainColor":"black","values":[0,0.25,0.5,0.75,1],"labelExpr":"format(datum.value*100,'d')","title":"Proportion, %","titleFontSize":11.8,"labelFontSize":11.3,"titlePadding":5}},
         "color":{"field":"name","type":"nominal",
          "scale":{"domain":["B cells naive","T cells CD4 memory resting","NK cells resting","Macrophages M2","Eosinophils","B cells memory","T cells CD4 memory activated","NK cells activated","Dendritic cells resting","Neutrophils","Plasma cells","T cells follicular helper","Monocytes","Dendritic cells activated"," ","T cells CD8","T cells regulatory Tregs","Macrophages M0","Mast cells resting","  ","T cells CD4 naive","T cells gamma delta","Macrophages M1","Mast cells activated","   "],
           "range":["#4DBBD5","#8491B4","#E49A8C","#D1489C","#AF7CB8","#E64B35","#91D1C2","#D4D23C","#ADD47A","#D8C9E0","#00A087","#DC0000","#6EBF72","#C8AA62","rgba(0,0,0,0)","#3C5488","#7E6148","#6A7EC2","#A6DCCF","rgba(0,0,0,0)","#F39B7F","#B09C85","#7D7B7F","#5B3E96","rgba(0,0,0,0)"]},
          "legend":{"title":"Group","orient":"bottom","direction":"horizontal","columns":5,"titleOrient":"left","titleAnchor":"middle","symbolType":"square","symbolSize":100,"symbolStrokeWidth":0,"labelFontSize":7.4,"titleFontSize":7.6,"rowPadding":0,"columnPadding":2,"labelOffset":2,"offset":-2,"labelLimit":200,"titlePadding":7}},
         "order":{"field":"ord","type":"quantitative","sort":"descending"}}},
       {"transform":[{"aggregate":[{"op":"count","as":"n"}],"groupby":["group"]}],
        "mark":{"type":"rect","fill":"#D9D9D9"},
        "encoding":{"y":{"datum":1.056,"type":"quantitative"},"y2":{"datum":1.147}}},
       {"transform":[{"aggregate":[{"op":"count","as":"n"}],"groupby":["group"]}],
        "mark":{"type":"text","fontSize":11.4,"baseline":"middle"},
        "encoding":{"y":{"datum":1.10,"type":"quantitative"},"text":{"field":"group"}}}
      ]
     }
    }]
   }
  ]}
 ]}
]
}
